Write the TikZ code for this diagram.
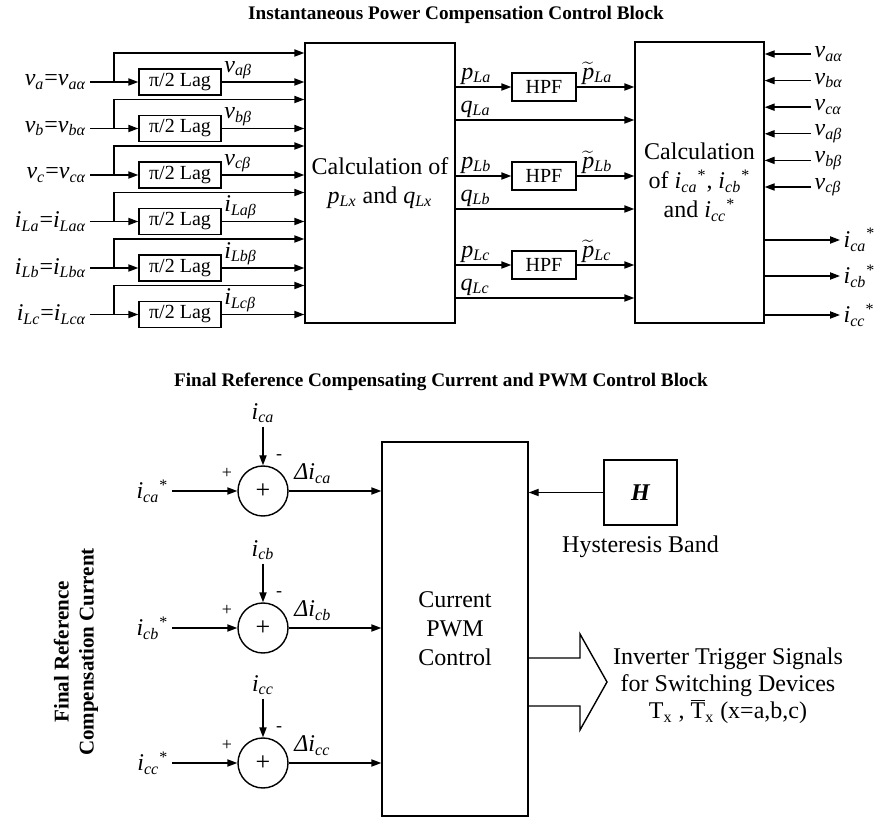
\documentclass[tikz,border=0pt]{standalone}
\usepackage{fontspec}
\setmainfont{Liberation Serif}
\usetikzlibrary{positioning, arrows.meta, calc}
\newcommand{\sgl}[2]{\textit{#1}\textsubscript{\textit{#2}}}
\newcommand{\ptil}[1]{$\widetilde{\mbox{\textit{p}}}$\textsubscript{\textit{#1}}}

\begin{document}
\begin{tikzpicture}[x=0.5pt, y=-0.5pt, line width=0.7pt,
  arr/.style={-{Triangle[length=5pt,width=3.6pt]}},
  blk/.style={draw, inner sep=0pt, align=center},
  lagbox/.style={blk, minimum width=41pt, minimum height=13pt, font=\fontsize{10}{12}\selectfont},
  hpfbox/.style={blk, minimum width=32pt, minimum height=14pt, font=\fontsize{10}{12}\selectfont},
  bigbox/.style={blk, font=\fontsize{12}{14.5}\selectfont},
  sumc/.style={draw, circle, minimum size=25pt, inner sep=0pt, font=\fontsize{13}{14}\selectfont},
  sig/.style={inner sep=1.5pt, font=\fontsize{12}{14}\selectfont},
  sgn/.style={inner sep=0pt, font=\fontsize{9}{10}\selectfont},
  ttl/.style={font=\fontsize{9.6}{11}\selectfont\bfseries}]
  \useasboundingbox (0,0) rectangle (874,818);

  % upper block
  \node[ttl] (ttl1) at (456,15) {Instantaneous Power Compensation Control Block};
  \node[bigbox, minimum width=75pt, minimum height=140pt] (calcpq) at (380,183)
    {Calculation of\\\sgl{p}{Lx} and \sgl{q}{Lx}};
  \node[bigbox, minimum width=64.5pt, minimum height=140.5pt] (calci) at (699.5,182.5)
    {Calculation\\of \sgl{i}{ca}\textsuperscript{*}, \sgl{i}{cb}\textsuperscript{*}\\and \sgl{i}{cc}\textsuperscript{*}};

  \foreach \k/\nm/\ph in {1/v/a, 2/v/b, 3/v/c, 4/i/La, 5/i/Lb, 6/i/Lc} {
    \pgfmathsetmacro{\yin}{82+46.5*(\k-1)}
    \node[sig, anchor=east] (in\k) at (90,\yin) {\sgl{\nm}{\ph}=\sgl{\nm}{\ph α}};
    \node[lagbox] (lag\k) at (180,\yin) {π/2 Lag};
    \coordinate (br\k) at (114,\yin);
    \coordinate (tp\k) at (114,\yin-29);
    \draw[arr] (in\k.east) -- (lag\k.west);
    \draw[arr] (br\k) -- (tp\k) -- (calcpq.west |- tp\k);
    \draw[arr] (lag\k.east) -- (calcpq.west |- lag\k.east)
      node[sig, pos=0, anchor=south west, inner sep=1pt] {\sgl{\nm}{\ph β}};
  }

  \foreach \j/\ph in {1/a, 2/b, 3/c} {
    \pgfmathsetmacro{\yp}{87+89*(\j-1)}
    \node[hpfbox] (hpf\j) at (544,\yp) {HPF};
    \coordinate (q\j) at (455,\yp+33);
    \draw[arr] (calcpq.east |- hpf\j) -- (hpf\j.west)
      node[sig, pos=0, anchor=south west, inner sep=1pt, xshift=1.5pt] {\sgl{p}{L\ph}};
    \draw[arr] (hpf\j.east) -- (calci.west |- hpf\j)
      node[sig, pos=0, anchor=south west, inner sep=1pt, xshift=1.5pt] {\ptil{L\ph}};
    \draw[arr] (q\j) -- (calci.west |- q\j)
      node[sig, pos=0, anchor=south west, inner sep=1pt, xshift=1.5pt] {\sgl{q}{L\ph}};
  }

  \foreach \k/\ph/\g in {1/a/α, 2/b/α, 3/c/α, 4/a/β, 5/b/β, 6/c/β} {
    \pgfmathsetmacro{\yv}{54+26.6*(\k-1)}
    \node[sig, anchor=west] (vr\k) at (811,\yv) {\sgl{v}{\ph\g}};
    \draw[arr] (vr\k.west) -- (calci.east |- vr\k);
  }
  \foreach \j/\ph/\yo in {1/a/240, 2/b/276, 3/c/315} {
    \node[sig, anchor=west] (io\j) at (840,\yo) {\sgl{i}{c\ph}\textsuperscript{*}};
    \draw[arr] (calci.east |- io\j) -- (io\j.west);
  }

  % lower block
  \node[ttl] (ttl2) at (441,382) {Final Reference Compensating Current and PWM Control Block};
  \node[bigbox, minimum width=73pt, minimum height=187pt] (pwm) at (455,629)
    {Current\\PWM\\Control};
  \node[blk, minimum width=36.5pt, minimum height=32.5pt, font=\fontsize{12}{14}\selectfont\bfseries\itshape]
    (hb) at (640.5,492.5) {H};
  \node[sig, below=3pt of hb] (hbl) {Hysteresis Band};
  \draw[arr] (hb.west) -- (pwm.east |- hb.west);

  \foreach \j/\ph/\yc in {1/a/491, 2/b/628, 3/c/763} {
    \node[sumc] (sum\j) at (263,\yc) {+};
    \node[sig] (ic\j) at (263,\yc-78) {\sgl{i}{c\ph}};
    \node[sig, anchor=east] (ir\j) at (172,\yc) {\sgl{i}{c\ph}\textsuperscript{*}};
    \node[sgn] at (227,\yc-18) {+};
    \node[sgn] at (279,\yc-34) {-};
    \draw[arr] (ic\j.south) -- (sum\j.north);
    \draw[arr] (ir\j.east) -- (sum\j.west);
    \draw[arr] (sum\j.east) -- (pwm.west |- sum\j)
      node[sig, pos=0, anchor=south west, xshift=1pt, yshift=2pt] {\textit{Δi}\textsubscript{\textit{c\ph}}};
  }

  \coordinate (ob1) at (pwm.east |- 0,658);
  \coordinate (ob2) at (pwm.east |- 0,706);
  \draw (ob1) -- (580,658) -- (580,634) -- (607,682) -- (580,730) -- (580,706) -- (ob2);
  \node[sig, align=center, font=\fontsize{12}{13.4}\selectfont] (trig) at (728,686)
    {Inverter Trigger Signals\\for Switching Devices\\T\textsubscript{x} , $\overline{\mbox{T}}$\textsubscript{x} (x=a,b,c)};

  \node[rotate=90, align=center, font=\fontsize{10.5}{12.5}\selectfont\bfseries] (vlab) at (76,652)
    {Final Reference\\Compensation Current};
\end{tikzpicture}
\end{document}
